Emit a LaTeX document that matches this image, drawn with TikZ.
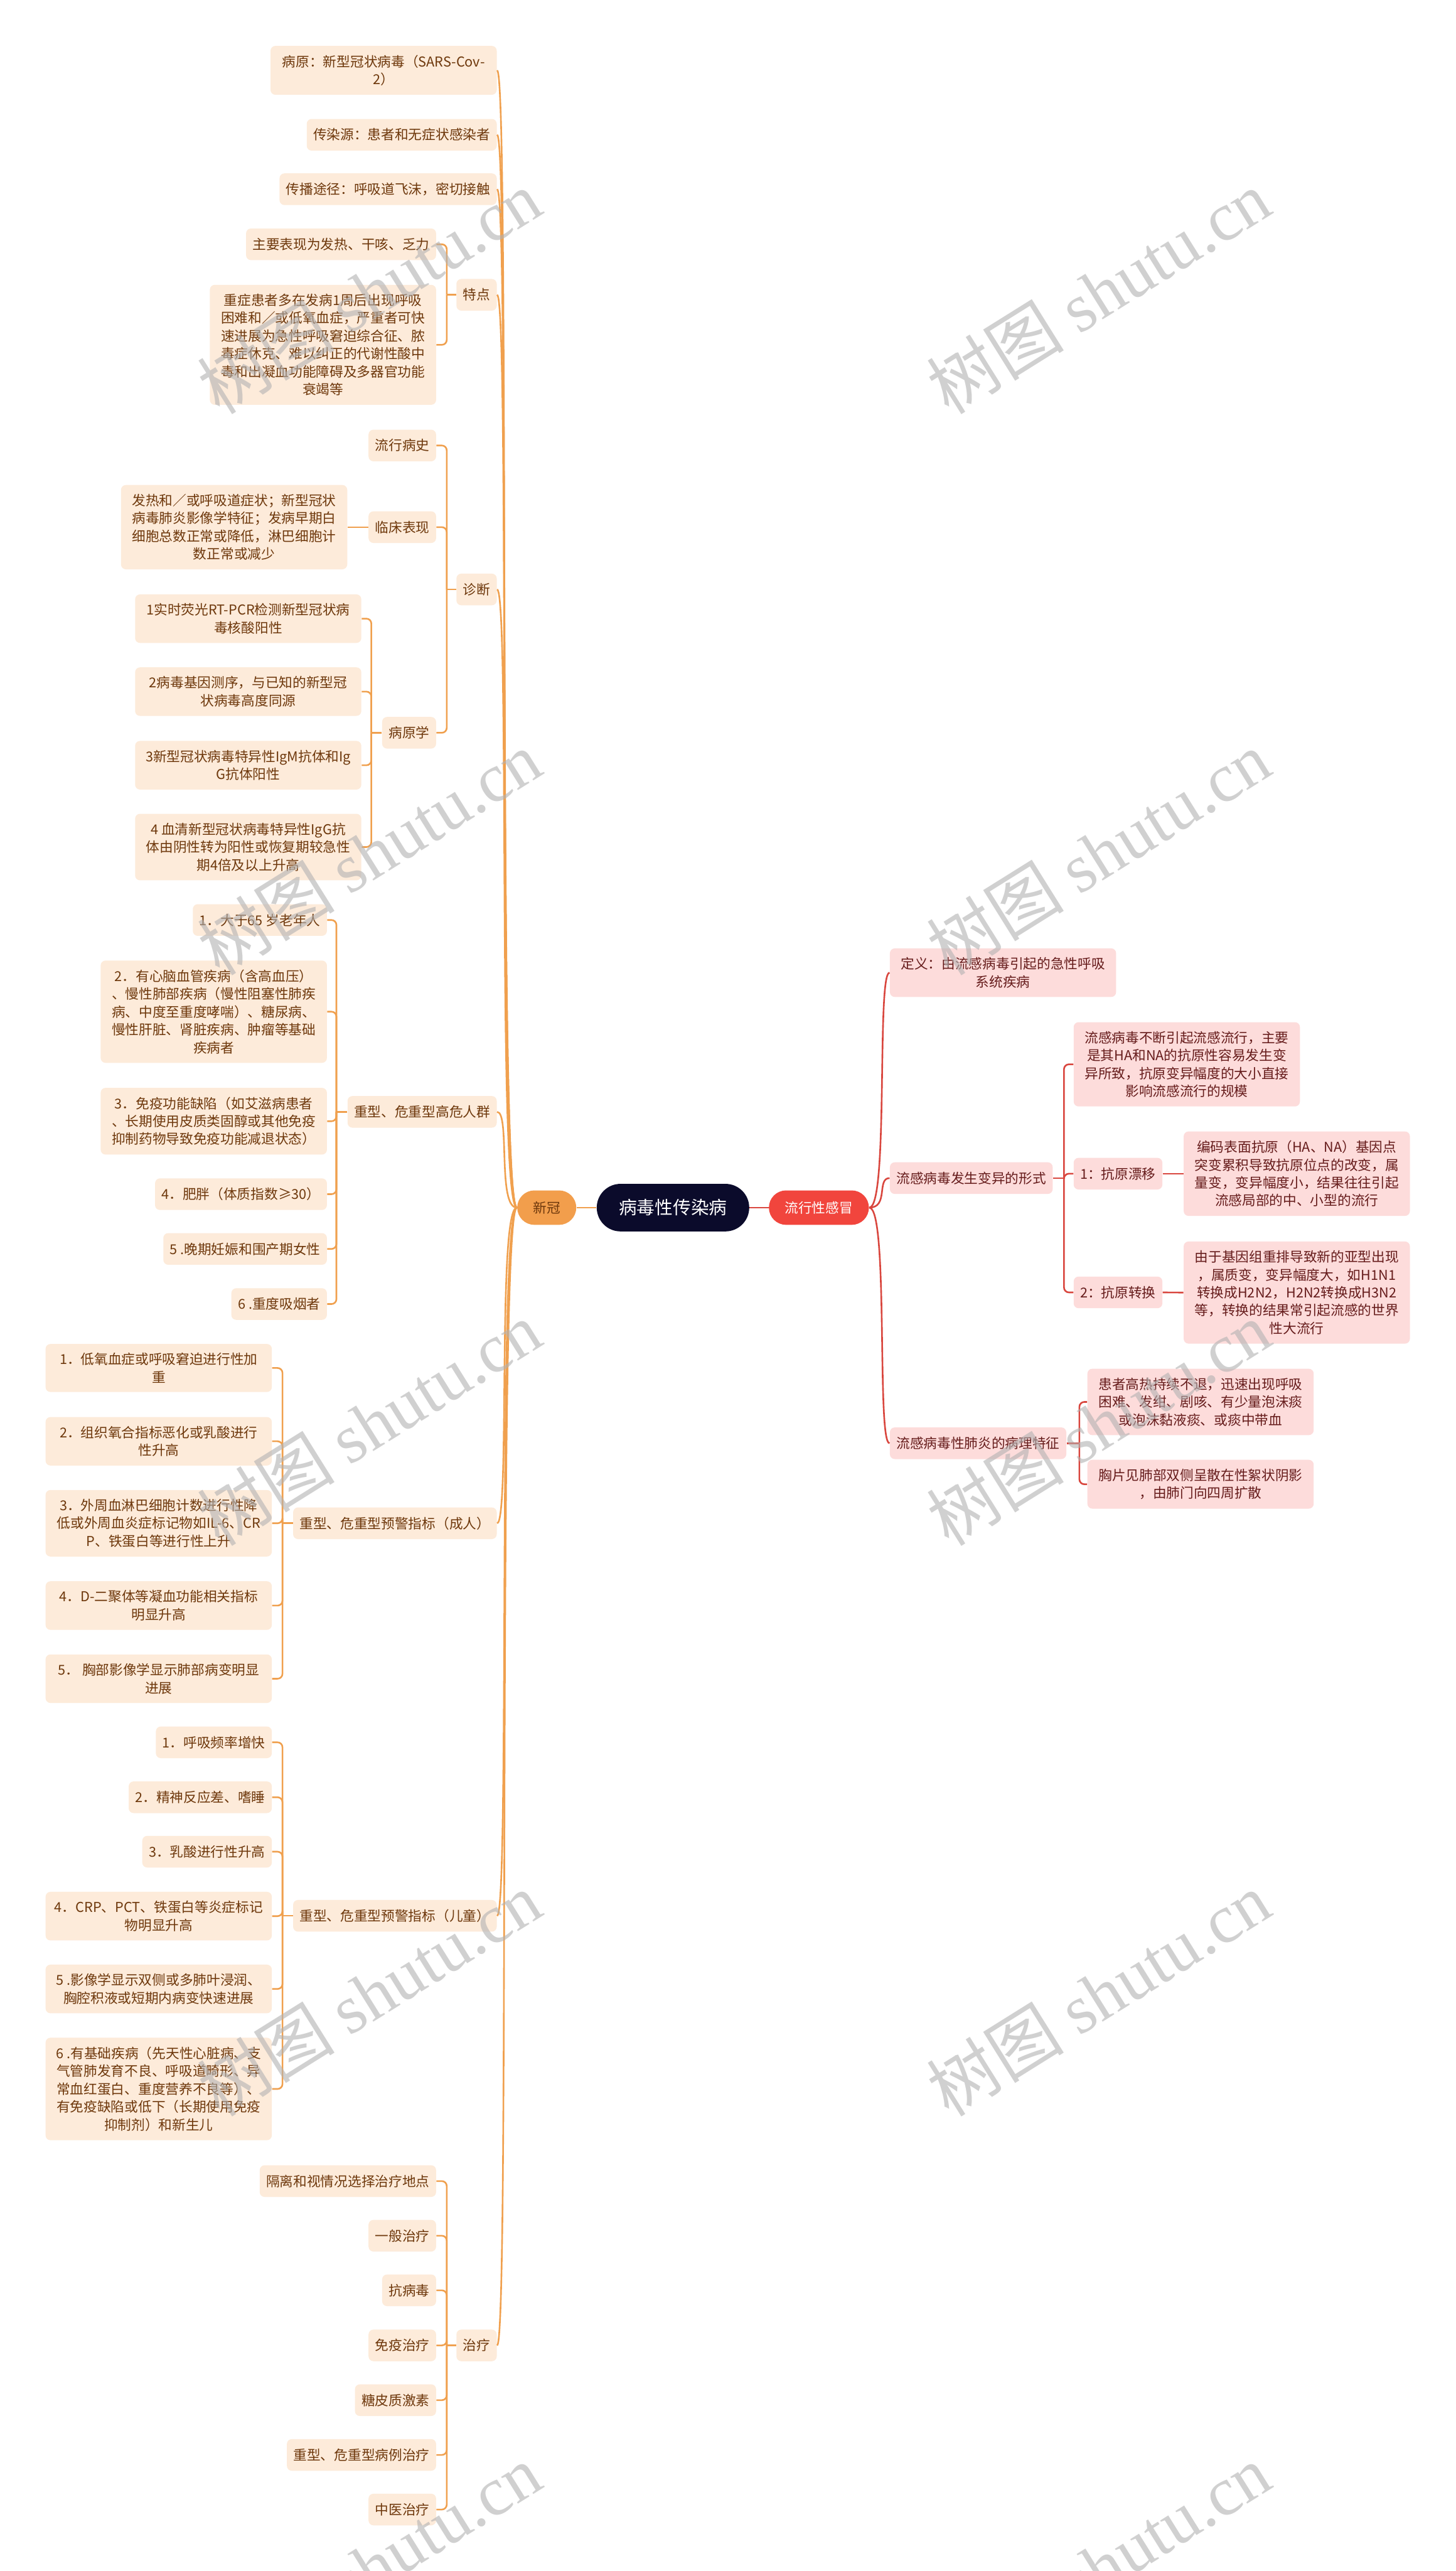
\documentclass[tikz,border=0pt]{standalone}
\usepackage{fontspec}
\setmainfont{Noto Sans CJK SC}
\newfontfamily\wmzh{Noto Sans CJK SC}
\newfontfamily\wmen{Liberation Serif}
\definecolor{xgline}{HTML}{F0A04E}
\definecolor{xgfill}{HTML}{FDEBDA}
\definecolor{xgtext}{HTML}{6E380C}
\definecolor{xgpill}{HTML}{F29E4C}
\definecolor{lxline}{HTML}{D9463E}
\definecolor{lxfill}{HTML}{FDDCDB}
\definecolor{lxtext}{HTML}{661C1C}
\definecolor{lxpill}{HTML}{F1453D}
\definecolor{rootfill}{HTML}{0B0B2B}
\begin{document}
\begin{tikzpicture}[x=1pt,y=-1pt]
	\tikzstyle{every node}=[align=center,font=\fontsize{8.3}{10.9}\selectfont]
	\tikzstyle{xgbox}=[fill=xgfill,text=xgtext,rounded corners=3,inner xsep=4,inner ysep=5.5,minimum height=19.3]
	\tikzstyle{lxbox}=[fill=lxfill,text=lxtext,rounded corners=3,inner xsep=4,inner ysep=5.5,minimum height=19.3]
	\tikzstyle{wide}=[minimum width=138]
	\tikzstyle{xgedge}=[draw=xgline,line width=1]
	\tikzstyle{lxedge}=[draw=lxline,line width=1]
	\tikzstyle{wm}=[rotate=32,text=black!30,text opacity=0.6,font=\fontsize{42}{42}\selectfont]

	\fill[white] (0,0) rectangle (888,1568);
	\useasboundingbox (0,0) rectangle (888,1568);

	% centre
	\node[fill=rootfill,text=white,rounded corners=14.5,minimum width=93,minimum height=29,font=\fontsize{11}{13}\selectfont] (root) at (410.5,736.5) {病毒性传染病};
	\node[fill=xgpill,text=xgtext,rounded corners=10.5,minimum width=36,minimum height=21] (xg) at (333.5,736.5) {新冠};
	\node[fill=lxpill,text=white,rounded corners=10.5,minimum width=61,minimum height=21] (lx) at (499.5,736.5) {流行性感冒};
	\draw[xgedge] (root.west) -- (xg.east);
	\draw[lxedge] (root.east) -- (lx.west);

	% 新冠
	\node[xgbox,wide,anchor=east] (bingyuan) at (303.2,42.9) {病原：新型冠状病毒（SARS-Cov-\\2）};
	\node[xgbox,anchor=east] (chuanran) at (303.2,82.2) {传染源：患者和无症状感染者};
	\node[xgbox,anchor=east] (chuanbo) at (303.2,115.4) {传播途径：呼吸道飞沫，密切接触};
	\node[xgbox,anchor=east] (tedian) at (303.2,179.8) {特点};
	\node[xgbox,anchor=east] (zhenduan) at (303.2,359.5) {诊断};
	\node[xgbox,anchor=east] (gaowei) at (303.2,678.1) {重型、危重型高危人群};
	\node[xgbox,anchor=east] (yujinga) at (303.2,929) {重型、危重型预警指标（成人）};
	\node[xgbox,anchor=east] (yujingb) at (303.2,1168.4) {重型、危重型预警指标（儿童）};
	\node[xgbox,anchor=east] (zhiliao) at (303.2,1430.4) {治疗};
	\foreach \c in {bingyuan,chuanran,chuanbo,tedian,zhenduan,gaowei,yujinga,yujingb,zhiliao}
		\draw[xgedge] (xg.west) .. controls +(-12,0) and +(8,0) .. (\c.east);

	\node[xgbox,anchor=east] (td1) at (266.2,149) {主要表现为发热、干咳、乏力};
	\node[xgbox,wide,anchor=east] (td2) at (266.2,210.3) {重症患者多在发病1周后出现呼吸\\困难和／或低氧血症，严重者可快\\速进展为急性呼吸窘迫综合征、脓\\毒症休克、难以纠正的代谢性酸中\\毒和出凝血功能障碍及多器官功能\\衰竭等};
	\draw[xgedge] (tedian.west) -- ++(-5.7,0) coordinate (tdj);
	\foreach \c in {td1,td2}
		\draw[xgedge,rounded corners=3] (tdj) |- (\c.east);

	\node[xgbox,anchor=east] (zd1) at (266.2,271.7) {流行病史};
	\node[xgbox,anchor=east] (zd2) at (266.2,321.5) {临床表现};
	\node[xgbox,anchor=east] (zd3) at (266.2,446.9) {病原学};
	\draw[xgedge] (zhenduan.west) -- ++(-5.7,0) coordinate (zdj);
	\foreach \c in {zd1,zd2,zd3}
		\draw[xgedge,rounded corners=3] (zdj) |- (\c.east);

	\node[xgbox,wide,anchor=east] (lc1) at (212,321.5) {发热和／或呼吸道症状；新型冠状\\病毒肺炎影像学特征；发病早期白\\细胞总数正常或降低，淋巴细胞计\\数正常或减少};
	\draw[xgedge] (zd2.west) -- (lc1.east);

	\node[xgbox,wide,anchor=east] (by1) at (220.6,377.3) {1实时荧光RT-PCR检测新型冠状病\\毒核酸阳性};
	\node[xgbox,wide,anchor=east] (by2) at (220.6,421.8) {2病毒基因测序，与已知的新型冠\\状病毒高度同源};
	\node[xgbox,wide,anchor=east] (by3) at (220.6,466.7) {3新型冠状病毒特异性IgM抗体和Ig\\G抗体阳性};
	\node[xgbox,wide,anchor=east] (by4) at (220.6,516.6) {4 血清新型冠状病毒特异性IgG抗\\体由阴性转为阳性或恢复期较急性\\期4倍及以上升高};
	\draw[xgedge] (zd3.west) -- ++(-6.4,0) coordinate (byj);
	\foreach \c in {by1,by2,by3,by4}
		\draw[xgedge,rounded corners=3] (byj) |- (\c.east);

	\node[xgbox,anchor=east] (gw1) at (199.6,561.1) {1．大于65 岁老年人};
	\node[xgbox,wide,anchor=east] (gw2) at (199.6,617) {2．有心脑血管疾病（含高血压）\\、慢性肺部疾病（慢性阻塞性肺疾\\病、中度至重度哮喘）、糖尿病、\\慢性肝脏、肾脏疾病、肿瘤等基础\\疾病者};
	\node[xgbox,wide,anchor=east] (gw3) at (199.6,683.8) {3．免疫功能缺陷（如艾滋病患者\\、长期使用皮质类固醇或其他免疫\\抑制药物导致免疫功能减退状态）};
	\node[xgbox,anchor=east] (gw4) at (199.6,728.3) {4．肥胖（体质指数≥30）};
	\node[xgbox,anchor=east] (gw5) at (199.6,761.7) {5 .晚期妊娠和围产期女性};
	\node[xgbox,anchor=east] (gw6) at (199.6,795.3) {6 .重度吸烟者};
	\draw[xgedge] (gaowei.west) -- ++(-6.6,0) coordinate (gwj);
	\foreach \c in {gw1,gw2,gw3,gw4,gw5,gw6}
		\draw[xgedge,rounded corners=3] (gwj) |- (\c.east);

	\node[xgbox,wide,anchor=east] (ya1) at (166,834.3) {1．低氧血症或呼吸窘迫进行性加\\重};
	\node[xgbox,wide,anchor=east] (ya2) at (166,879) {2．组织氧合指标恶化或乳酸进行\\性升高};
	\node[xgbox,wide,anchor=east] (ya3) at (166,929) {3．外周血淋巴细胞计数进行性降\\低或外周血炎症标记物如IL-6、CR\\P、铁蛋白等进行性上升};
	\node[xgbox,wide,anchor=east] (ya4) at (166,979.2) {4．D-二聚体等凝血功能相关指标\\明显升高};
	\node[xgbox,wide,anchor=east] (ya5) at (166,1023.8) {5． 胸部影像学显示肺部病变明显\\进展};
	\draw[xgedge] (yujinga.west) -- ++(-6.3,0) coordinate (yaj);
	\foreach \c in {ya1,ya2,ya3,ya4,ya5}
		\draw[xgedge,rounded corners=3] (yaj) |- (\c.east);

	\node[xgbox,anchor=east] (yb1) at (166,1062.6) {1．呼吸频率增快};
	\node[xgbox,anchor=east] (yb2) at (166,1096.1) {2．精神反应差、嗜睡};
	\node[xgbox,anchor=east] (yb3) at (166,1129.3) {3．乳酸进行性升高};
	\node[xgbox,wide,anchor=east] (yb4) at (166,1168.6) {4．CRP、PCT、铁蛋白等炎症标记\\物明显升高};
	\node[xgbox,wide,anchor=east] (yb5) at (166,1213) {5 .影像学显示双侧或多肺叶浸润、\\胸腔积液或短期内病变快速进展};
	\node[xgbox,wide,anchor=east] (yb6) at (166,1274) {6 .有基础疾病（先天性心脏病、支\\气管肺发育不良、呼吸道畸形、异\\常血红蛋白、重度营养不良等）、\\有免疫缺陷或低下（长期使用免疫\\抑制剂）和新生儿};
	\draw[xgedge] (yujingb.west) -- ++(-6.3,0) coordinate (ybj);
	\foreach \c in {yb1,yb2,yb3,yb4,yb5,yb6}
		\draw[xgedge,rounded corners=3] (ybj) |- (\c.east);

	\node[xgbox,anchor=east] (zl1) at (266.2,1330.2) {隔离和视情况选择治疗地点};
	\node[xgbox,anchor=east] (zl2) at (266.2,1363.5) {一般治疗};
	\node[xgbox,anchor=east] (zl3) at (266.2,1396.8) {抗病毒};
	\node[xgbox,anchor=east] (zl4) at (266.2,1430.4) {免疫治疗};
	\node[xgbox,anchor=east] (zl5) at (266.2,1463.8) {糖皮质激素};
	\node[xgbox,anchor=east] (zl6) at (266.2,1497.2) {重型、危重型病例治疗};
	\node[xgbox,anchor=east] (zl7) at (266.2,1530.5) {中医治疗};
	\draw[xgedge] (zhiliao.west) -- ++(-5.7,0) coordinate (zlj);
	\foreach \c in {zl1,zl2,zl3,zl4,zl5,zl6,zl7}
		\draw[xgedge,rounded corners=3] (zlj) |- (\c.east);

	% 流行性感冒
	\node[lxbox,wide,anchor=west] (dingyi) at (542.6,593.2) {定义：由流感病毒引起的急性呼吸\\系统疾病};
	\node[lxbox,anchor=west] (bianyi) at (542.6,718.5) {流感病毒发生变异的形式};
	\node[lxbox,anchor=west] (feiyan) at (542.6,880.2) {流感病毒性肺炎的病理特征};
	\foreach \c in {dingyi,bianyi,feiyan}
		\draw[lxedge] (lx.east) .. controls +(12,0) and +(-8,0) .. (\c.west);

	\node[lxbox,wide,anchor=west] (bv0) at (654.7,649.1) {流感病毒不断引起流感流行，主要\\是其HA和NA的抗原性容易发生变\\异所致，抗原变异幅度的大小直接\\影响流感流行的规模};
	\node[lxbox,anchor=west] (bv1) at (654.7,715.8) {1：抗原漂移};
	\node[lxbox,anchor=west] (bv2) at (654.7,788.2) {2：抗原转换};
	\draw[lxedge] (bianyi.east) -- ++(6.7,0) coordinate (bvj);
	\foreach \c in {bv0,bv1,bv2}
		\draw[lxedge,rounded corners=3] (bvj) |- (\c.west);

	\node[lxbox,wide,anchor=west] (bv1a) at (721.8,715.8) {编码表面抗原（HA、NA）基因点\\突变累积导致抗原位点的改变，属\\量变，变异幅度小，结果往往引起\\流感局部的中、小型的流行};
	\node[lxbox,wide,anchor=west] (bv2a) at (721.8,788.3) {由于基因组重排导致新的亚型出现\\，属质变，变异幅度大，如H1N1\\转换成H2N2，H2N2转换成H3N2\\等，转换的结果常引起流感的世界\\性大流行};
	\draw[lxedge] (bv1.east) -- (bv1a.west);
	\draw[lxedge] (bv2.east) -- (bv2a.west);

	\node[lxbox,wide,anchor=west] (fy1) at (663.1,855) {患者高热持续不退，迅速出现呼吸\\困难、发绀、剧咳、有少量泡沫痰\\或泡沫黏液痰、或痰中带血};
	\node[lxbox,wide,anchor=west] (fy2) at (663.1,905.2) {胸片见肺部双侧呈散在性絮状阴影\\，由肺门向四周扩散};
	\draw[lxedge] (feiyan.east) -- ++(7.8,0) coordinate (fyj);
	\foreach \c in {fy1,fy2}
		\draw[lxedge,rounded corners=3] (fyj) |- (\c.west);

	% watermark
	\foreach \y [count=\n] in {178,520,868,1216,1565} {
		\node[wm] (wml\n) at (225,\y) {{\wmzh 树图} {\wmen shutu.cn}};
		\node[wm] (wmr\n) at (670,\y) {{\wmzh 树图} {\wmen shutu.cn}};
	}
\end{tikzpicture}
\end{document}
